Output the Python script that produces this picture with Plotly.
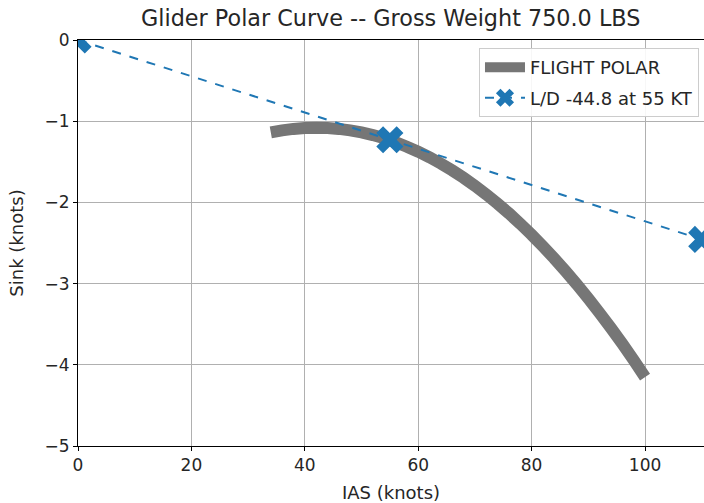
import plotly.graph_objects as go

# Flight polar (IAS knots vs sink knots)
polar_ias = [34, 36, 38, 40, 42, 44, 46, 48, 50, 52, 54, 56, 58, 60, 62, 64, 66, 68,
             70, 72, 74, 76, 78, 80, 82, 84, 86, 88, 90, 92, 94, 96, 98, 100]
polar_sink = [-1.138, -1.113, -1.095, -1.084, -1.080, -1.084, -1.095, -1.113, -1.138,
              -1.171, -1.211, -1.259, -1.314, -1.376, -1.445, -1.522, -1.606, -1.697,
              -1.796, -1.902, -2.015, -2.135, -2.263, -2.398, -2.541, -2.690, -2.848,
              -3.012, -3.184, -3.363, -3.549, -3.742, -3.943, -4.151]

# Best L/D tangent line
ld_ias = [0, 55, 110]
ld_sink = [0.0, -1.228, -2.456]

x_ticks = [0, 20, 40, 60, 80, 100]
y_ticks = [0, -1, -2, -3, -4, -5]

title_text = "Glider Polar Curve -- Gross Weight 750.0 LBS"
polar_name = "FLIGHT POLAR"
ld_name = "L/D -44.8 at 55 KT"

fig = go.Figure()
fig.add_trace(go.Scatter(
    x=polar_ias, y=polar_sink, mode="lines", name=polar_name, legendgroup="a",
    line=dict(color="rgb(118,118,118)", width=12, simplify=False),
))
fig.add_trace(go.Scatter(
    x=ld_ias, y=ld_sink, mode="lines+markers", name=ld_name, legendgroup="b",
    line=dict(color="#1f77b4", width=2, dash="dash"),
    marker=dict(symbol="x", size=24, color="#1f77b4"),
))

font_family = "DejaVu Sans"
txt = "#262626"
fig.update_layout(
    width=704, height=503,
    margin=dict(l=78, r=0, t=40, b=57),
    paper_bgcolor="white", plot_bgcolor="white",
    font=dict(family=font_family, size=17, color=txt),
    title=dict(text=title_text, x=0.555, xanchor="center", y=0.963, yanchor="middle",
               font=dict(family=font_family, size=22.3, color=txt)),
    showlegend=True,
    legend=dict(x=0.992, xanchor="right", y=0.98, yanchor="top",
                bgcolor="rgba(255,255,255,0.9)", bordercolor="#cccccc", borderwidth=1,
                font=dict(family=font_family, size=18, color=txt),
                itemwidth=40, tracegroupgap=4),
)
fig.update_xaxes(
    range=[0, 110.4], tickvals=x_ticks, ticktext=[str(v) for v in x_ticks],
    showgrid=True, gridcolor="#b0b0b0", gridwidth=1, zeroline=False,
    showline=True, linecolor="black", linewidth=1, mirror=True,
    ticks="outside", ticklen=4, tickcolor="black", automargin=False,
    tickfont=dict(size=17),
    title=dict(text="IAS (knots)", font=dict(size=18), standoff=11),
)
fig.update_yaxes(
    range=[-5, 0], tickvals=y_ticks, ticktext=["0" if v == 0 else "\u2212" + str(-v) for v in y_ticks],
    showgrid=True, gridcolor="#b0b0b0", gridwidth=1, zeroline=False,
    showline=True, linecolor="black", linewidth=1, mirror=False,
    ticks="outside", ticklen=4, tickcolor="black", automargin=False,
    tickfont=dict(size=17),
    title=dict(text="Sink (knots)", font=dict(size=18), standoff=16),
)

fig.write_html("out.html", config={"displayModeBar": False},
               post_script="document.body.style.margin='0';")
